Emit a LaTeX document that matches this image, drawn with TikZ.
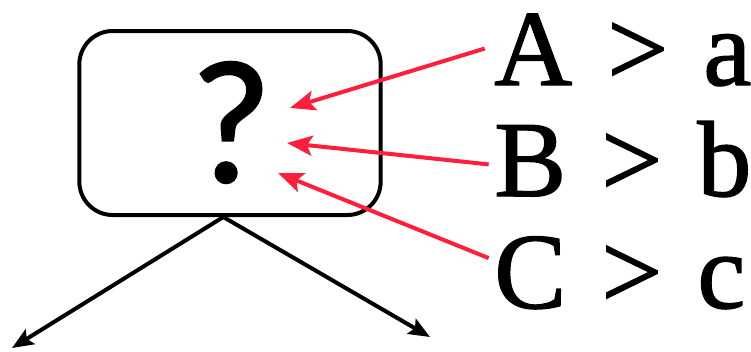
\documentclass[tikz,border=0pt]{standalone}
\usepackage{fontspec}
\usepackage{xcolor}
\usepackage{tikz}
\usetikzlibrary{arrows.meta,positioning}
\newfontfamily\condfont[FakeBold=1.3,WordSpace=1.3]{Liberation Serif}
\newfontfamily\markfont[FakeBold=1.2]{Carlito}
\definecolor{arrowred}{RGB}{255,30,60}

\begin{document}
\begin{tikzpicture}[x=0.75pt,y=-0.75pt,
		redarrow/.style={arrowred, line width=3pt, -{Stealth[length=19pt,width=15pt,inset=4pt]}},
		blackarrow/.style={black, line width=3pt, -{Stealth[length=16pt,width=13pt,inset=3pt]}},
		cond/.style={font=\condfont\fontsize{81}{81}\selectfont, inner sep=0pt, anchor=base west}]
		\useasboundingbox (0,0) rectangle (751,351);

		\node[draw, line width=3pt, rounded corners=25pt, minimum width=226pt, minimum height=138pt] (box) at (230,123) {};
		\node[font=\markfont\fontsize{132}{132}\selectfont, inner sep=0pt, anchor=base] (mark) at (231,182) {?};

		\node[cond] (condA) at (494,85) {A > a};
		\node[cond] (condB) at (494,196) {B > b};
		\node[cond] (condC) at (494,308) {C > c};

		\coordinate (tipA) at (290,108);
		\coordinate (tipB) at (287,143);
		\coordinate (tipC) at (278,173);

		\draw[redarrow] ([xshift=-7pt,yshift=1pt]condA.west) -- (tipA);
		\draw[redarrow] ([xshift=-4pt,yshift=-4pt]condB.west) -- (tipB);
		\draw[redarrow] ([xshift=-4pt,yshift=11pt]condC.west) -- (tipC);

		\coordinate (leftEnd) at (12,348);
		\coordinate (rightEnd) at (430,337);

		\draw[blackarrow] ([xshift=-5pt]box.south) -- (leftEnd);
		\draw[blackarrow] ([xshift=-5pt]box.south) -- (rightEnd);
	\end{tikzpicture}
\end{document}
